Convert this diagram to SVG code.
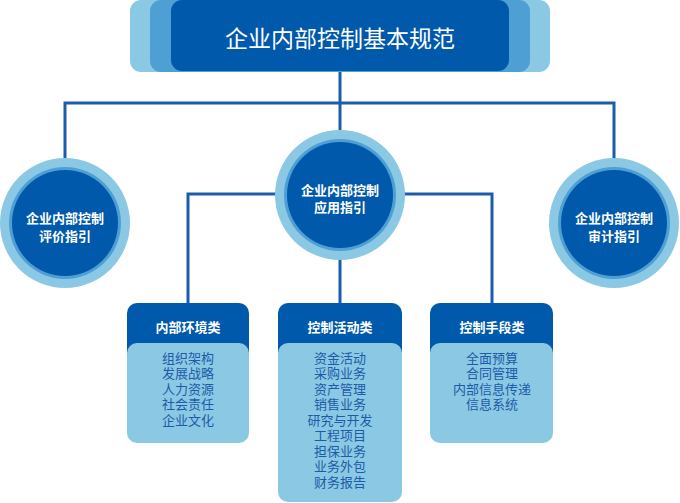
<svg xmlns="http://www.w3.org/2000/svg" width="680" height="503" viewBox="0 0 680 503">
<style>
.dark{fill:#0059AB}.light{fill:#8BC8E3}.mid{fill:#4E9FD3}
.conn{stroke:#1B5DAA;stroke-width:3;fill:none}
.t{font-family:"Noto Sans CJK SC","Noto Sans",sans-serif;fill:#fff;text-anchor:middle;dominant-baseline:central}
.ct{font-size:13px;font-weight:bold}
.it{font-family:"Noto Sans CJK SC","Noto Sans",sans-serif;fill:#1C5BA8;font-size:13px;text-anchor:middle;dominant-baseline:central}
</style>
<g id="connectors">
<path class="conn" d="M340 72V103M65 160V103H614V160M340 103V130"/>
<path class="conn" d="M276 194H188V304M404 194H492V304M340 258V304"/>
</g>
<g id="top">
<rect class="light" x="130" y="0" width="420" height="72" rx="11"/>
<rect class="mid" x="150" y="0" width="380" height="72" rx="11"/>
<rect class="dark" x="171" y="0" width="338" height="71" rx="11"/>
<text class="t" x="340" y="37" font-size="23">企业内部控制基本规范</text>
</g>
<g id="left-circle">
<circle class="light" cx="65" cy="223" r="65"/>
<circle class="mid" cx="65" cy="223" r="56"/>
<circle class="dark" cx="65" cy="223" r="53"/>
<text class="t ct" x="65" y="217">企业内部控制</text>
<text class="t ct" x="65" y="235">评价指引</text>
</g>
<g id="center-circle">
<circle class="light" cx="340" cy="195" r="65"/>
<circle class="mid" cx="340" cy="195" r="56"/>
<circle class="dark" cx="340" cy="195" r="53"/>
<text class="t ct" x="340" y="189">企业内部控制</text>
<text class="t ct" x="340" y="206">应用指引</text>
</g>
<g id="right-circle">
<circle class="light" cx="614" cy="223" r="65"/>
<circle class="mid" cx="614" cy="223" r="56"/>
<circle class="dark" cx="614" cy="223" r="53"/>
<text class="t ct" x="614" y="217">企业内部控制</text>
<text class="t ct" x="614" y="235">审计指引</text>
</g>
<g id="box-env">
<rect class="dark" x="127" y="303" width="122" height="60" rx="10"/>
<rect class="light" x="127" y="343" width="122" height="100" rx="10"/>
<text class="t ct" x="188" y="326">内部环境类</text>
<text class="it" x="188" y="357">组织架构</text>
<text class="it" x="188" y="372.5">发展战略</text>
<text class="it" x="188" y="388">人力资源</text>
<text class="it" x="188" y="403.5">社会责任</text>
<text class="it" x="188" y="419">企业文化</text>
</g>
<g id="box-activity">
<rect class="dark" x="278" y="303" width="124" height="60" rx="10"/>
<rect class="light" x="278" y="343" width="124" height="159" rx="10"/>
<text class="t ct" x="340" y="326">控制活动类</text>
<text class="it" x="340" y="357">资金活动</text>
<text class="it" x="340" y="372.5">采购业务</text>
<text class="it" x="340" y="388">资产管理</text>
<text class="it" x="340" y="403.5">销售业务</text>
<text class="it" x="340" y="419">研究与开发</text>
<text class="it" x="340" y="434.5">工程项目</text>
<text class="it" x="340" y="450">担保业务</text>
<text class="it" x="340" y="465.5">业务外包</text>
<text class="it" x="340" y="481">财务报告</text>
</g>
<g id="box-means">
<rect class="dark" x="430" y="303" width="123" height="60" rx="10"/>
<rect class="light" x="430" y="343" width="123" height="100" rx="10"/>
<text class="t ct" x="492" y="326">控制手段类</text>
<text class="it" x="492" y="357">全面预算</text>
<text class="it" x="492" y="372.5">合同管理</text>
<text class="it" x="492" y="388">内部信息传递</text>
<text class="it" x="492" y="403.5">信息系统</text>
</g>
</svg>
